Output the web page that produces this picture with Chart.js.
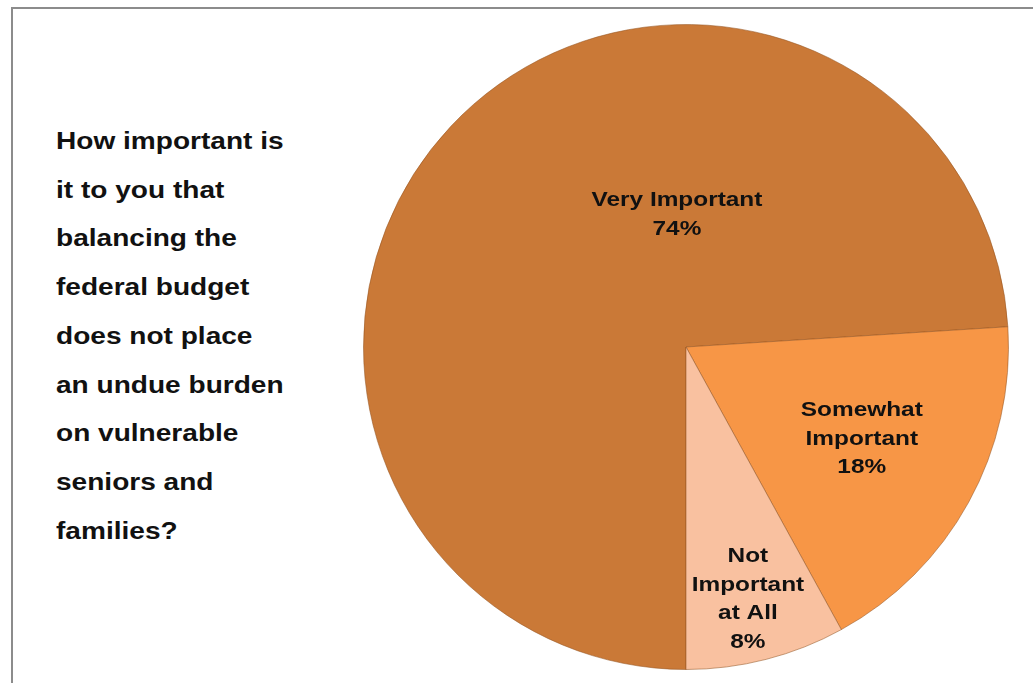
<!DOCTYPE html>
<html>
<head>
<meta charset="utf-8">
<script src="https://cdn.jsdelivr.net/npm/chart.js@4"></script>
<style>
  html, body { margin: 0; padding: 0; background: #fff; }
  body { width: 1033px; height: 683px; position: relative; overflow: hidden; font-family: "Liberation Sans", Arial, sans-serif; }
  #frame { position: absolute; left: 11px; top: 7px; right: -5px; bottom: -5px; border-left: 2px solid #8c8c8c; border-top: 2px solid #8c8c8c; }
  #question { position: absolute; left: 56px; top: 117px; font-size: 23px; font-weight: bold; line-height: 48.7px; color: #111; transform: scaleX(1.22); transform-origin: 0 0; white-space: nowrap; }
  #pieWrap { position: absolute; left: 363px; top: 24px; width: 646px; height: 646px; }
</style>
</head>
<body>
<div id="frame"></div>
<div id="question"></div>
<div id="pieWrap"><canvas id="importanceChart"></canvas></div>
<script>
// question text, one entry per line as on the slide
const questionLines = ["How important is", "it to you that", "balancing the", "federal budget", "does not place", "an undue burden", "on vulnerable", "seniors and", "families?"];

// pie data (clockwise starting at 6 o'clock)
const categories = ["Very Important", "Somewhat Important", "Not Important at All"];
const shares = [74, 18, 8];
const sliceLabels = [["Very Important", "74%"], ["Somewhat", "Important", "18%"], ["Not", "Important", "at All", "8%"]];
const sliceColors = ["#CA7937", "#F79646", "#F9C1A0"];

document.getElementById('question').innerHTML = questionLines.join('<br>');

// draws the slice labels, placed relative to each arc's centre/radius
const sliceLabelPlugin = {
    id: 'sliceLabels',
    afterDatasetsDraw(chart) {
        const ctx = chart.ctx;
        const meta = chart.getDatasetMeta(0);
        // offsets as fractions of the radius (x right, y down)
        const spots = [[-0.028, -0.41], [0.545, 0.286], [0.192, 0.783]];
        const stretch = 1.22; // the slide text is a bit wider than the font
        ctx.save();
        ctx.font = 'bold 20px "Liberation Sans", Arial, sans-serif';
        ctx.fillStyle = '#111';
        ctx.textAlign = 'center';
        ctx.textBaseline = 'middle';
        meta.data.forEach((arc, i) => {
            const r = arc.outerRadius;
            const cx = arc.x + spots[i][0] * r;
            const cy = arc.y + spots[i][1] * r;
            const lines = sliceLabels[i];
            const lh = 28.7;
            lines.forEach((t, j) => {
                ctx.save();
                ctx.translate(cx, cy + (j - (lines.length - 1) / 2) * lh);
                ctx.scale(stretch, 1);
                ctx.fillText(t, 0, 0);
                ctx.restore();
            });
        });
        ctx.restore();
    }
};

const ctx = document.getElementById('importanceChart').getContext('2d');
const importanceChart = new Chart(ctx, {
    type: 'pie',
    data: {
        labels: categories,
        datasets: [{
            data: shares,
            backgroundColor: sliceColors,
            borderColor: 'rgba(150, 85, 35, 0.55)',
            borderWidth: 1
        }]
    },
    options: {
        responsive: true,
        maintainAspectRatio: false,
        animation: false,
        rotation: 180,
        layout: { padding: 0 },
        plugins: {
            legend: { display: false },
            tooltip: { enabled: false }
        }
    },
    plugins: [sliceLabelPlugin]
});
</script>
</body>
</html>
